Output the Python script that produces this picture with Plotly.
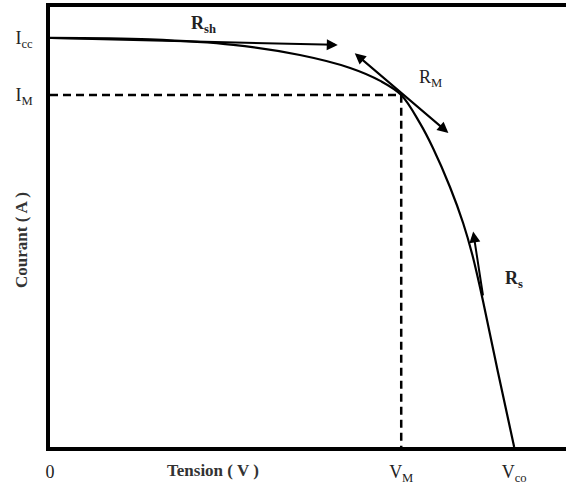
import plotly.graph_objects as go

# I-V characteristic (V in volts, I in amperes, arbitrary scale)
voltage = [0.0, 0.129, 0.237, 0.323, 0.388, 0.427, 0.454, 0.478, 0.495, 0.517, 0.534, 0.546, 0.560, 0.579, 0.600]
current = [3.0, 2.989, 2.949, 2.875, 2.780, 2.685, 2.582, 2.377, 2.193, 1.907, 1.643, 1.408, 1.064, 0.550, 0.0]

Icc = 3.0
IM = 2.582
VM = 0.454
Vco = 0.600

x_tick_vals = [0, VM, Vco]
x_tick_text = ["0", "V<sub>M</sub>", "V<sub>co</sub>"]
y_tick_vals = [IM, Icc]
y_tick_text = ["I<sub>M</sub>", "I<sub>cc</sub>"]

FONT = "Liberation Serif"

fig = go.Figure()
fig.add_trace(go.Scatter(x=voltage, y=current, mode="lines",
                         line=dict(color="black", width=2.2, shape="spline", smoothing=1.0),
                         hoverinfo="skip", showlegend=False))
# dashed guides to the maximum power point
fig.add_trace(go.Scatter(x=[0, VM, VM], y=[IM, IM, 0], mode="lines",
                         line=dict(color="black", width=2.5, dash="8px,5px"), hoverinfo="skip", showlegend=False))

arrow = dict(showarrow=True, axref="x", ayref="y", xref="x", yref="y", arrowcolor="black",
             arrowhead=2, arrowsize=1.1, arrowwidth=2, text="")
# Rsh tangent
fig.add_annotation(**arrow, x=0.372, y=2.949, ax=0.0, ay=3.0)
# RM tangent (double headed)
fig.add_annotation(**arrow, x=0.515, y=2.303, ax=0.392, ay=2.897, arrowside="end+start")
# Rs tangent
fig.add_annotation(**arrow, x=0.547, y=1.58, ax=0.560, ay=1.10)

lab = dict(showarrow=False, xref="x", yref="y", font=dict(family=FONT, size=18, color="#222"))
fig.add_annotation(**lab, x=0.198, y=3.10, text="<b>R<sub>sh</sub></b>")
fig.add_annotation(**lab, x=0.492, y=2.70, text="R<sub>M</sub>")
fig.add_annotation(**lab, x=0.600, y=1.23, text="<b>R<sub>s</sub></b>")

fig.update_layout(
    width=566, height=485, margin=dict(l=50, r=0, t=7, b=38),
    plot_bgcolor="white", paper_bgcolor="white",
    font=dict(family=FONT, size=18, color="#222"),
    xaxis=dict(range=[0, 0.667], showgrid=False, zeroline=False, showline=True, linecolor="black", linewidth=3.5,
               mirror=True, tickvals=x_tick_vals, ticktext=x_tick_text, ticks="", ticklabelstandoff=6,
               tickfont=dict(family=FONT, size=18, color="#222")),
    yaxis=dict(range=[0, 3.227], showgrid=False, zeroline=False, showline=True, linecolor="black", linewidth=3.5,
               tickvals=y_tick_vals, ticktext=y_tick_text, ticks="", ticklabelstandoff=10,
               tickfont=dict(family=FONT, size=18, color="#222")),
)
# paper-positioned titles (converted from pixel positions)
fig.add_annotation(text="<b>Tension ( V )</b>", x=(213 - 50) / 516, y=-(470 - 447) / 440,
                   xref="paper", yref="paper", showarrow=False, xanchor="center", yanchor="middle",
                   font=dict(family=FONT, size=17, color="#333"))
fig.add_annotation(text="<b>Courant ( A )</b>", x=(21 - 50) / 516, y=(447 - 240) / 440,
                   xref="paper", yref="paper", showarrow=False, textangle=-90, xanchor="center", yanchor="middle",
                   font=dict(family=FONT, size=17, color="#333"))

fig.write_html("out.html")
